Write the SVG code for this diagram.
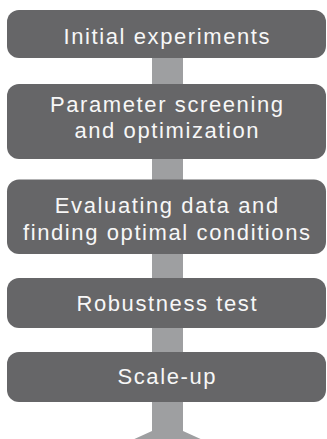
<svg xmlns="http://www.w3.org/2000/svg" width="327" height="439" viewBox="0 0 327 439">
<style>
.box{fill:#666668;}
.conn{fill:#9e9fa1;}
.lbl{fill:#f7f7f7;font-family:"Liberation Sans",Arial,sans-serif;font-size:22px;letter-spacing:1.6px;text-anchor:middle;}
</style>
<rect width="327" height="439" fill="#ffffff"/>
<g id="connectors">
<rect class="conn" x="152" y="57" width="31" height="28"/>
<rect class="conn" x="152" y="158" width="31" height="22"/>
<rect class="conn" x="152" y="253" width="31" height="26"/>
<rect class="conn" x="152" y="327" width="31" height="26"/>
<polygon class="conn" points="152,401 183,401 183,431 205,441 167.5,460 130,441 152,431"/>
</g>
<g id="node1">
<rect class="box" x="7" y="10" width="319" height="48" rx="12"/>
<text class="lbl" x="167.3" y="44">Initial experiments</text>
</g>
<g id="node2">
<rect class="box" x="7" y="84" width="319" height="75" rx="12"/>
<text class="lbl" x="167.3" y="112">Parameter screening</text>
<text class="lbl" x="167.3" y="138">and optimization</text>
</g>
<g id="node3">
<rect class="box" x="7" y="179.5" width="319" height="74.5" rx="12"/>
<text class="lbl" x="167.3" y="213">Evaluating data and</text>
<text class="lbl" x="167.3" y="240">finding optimal conditions</text>
</g>
<g id="node4">
<rect class="box" x="7" y="278" width="319" height="50" rx="12"/>
<text class="lbl" x="167.3" y="311">Robustness test</text>
</g>
<g id="node5">
<rect class="box" x="7" y="352" width="319" height="50" rx="12"/>
<text class="lbl" x="167.3" y="384">Scale-up</text>
</g>
</svg>
